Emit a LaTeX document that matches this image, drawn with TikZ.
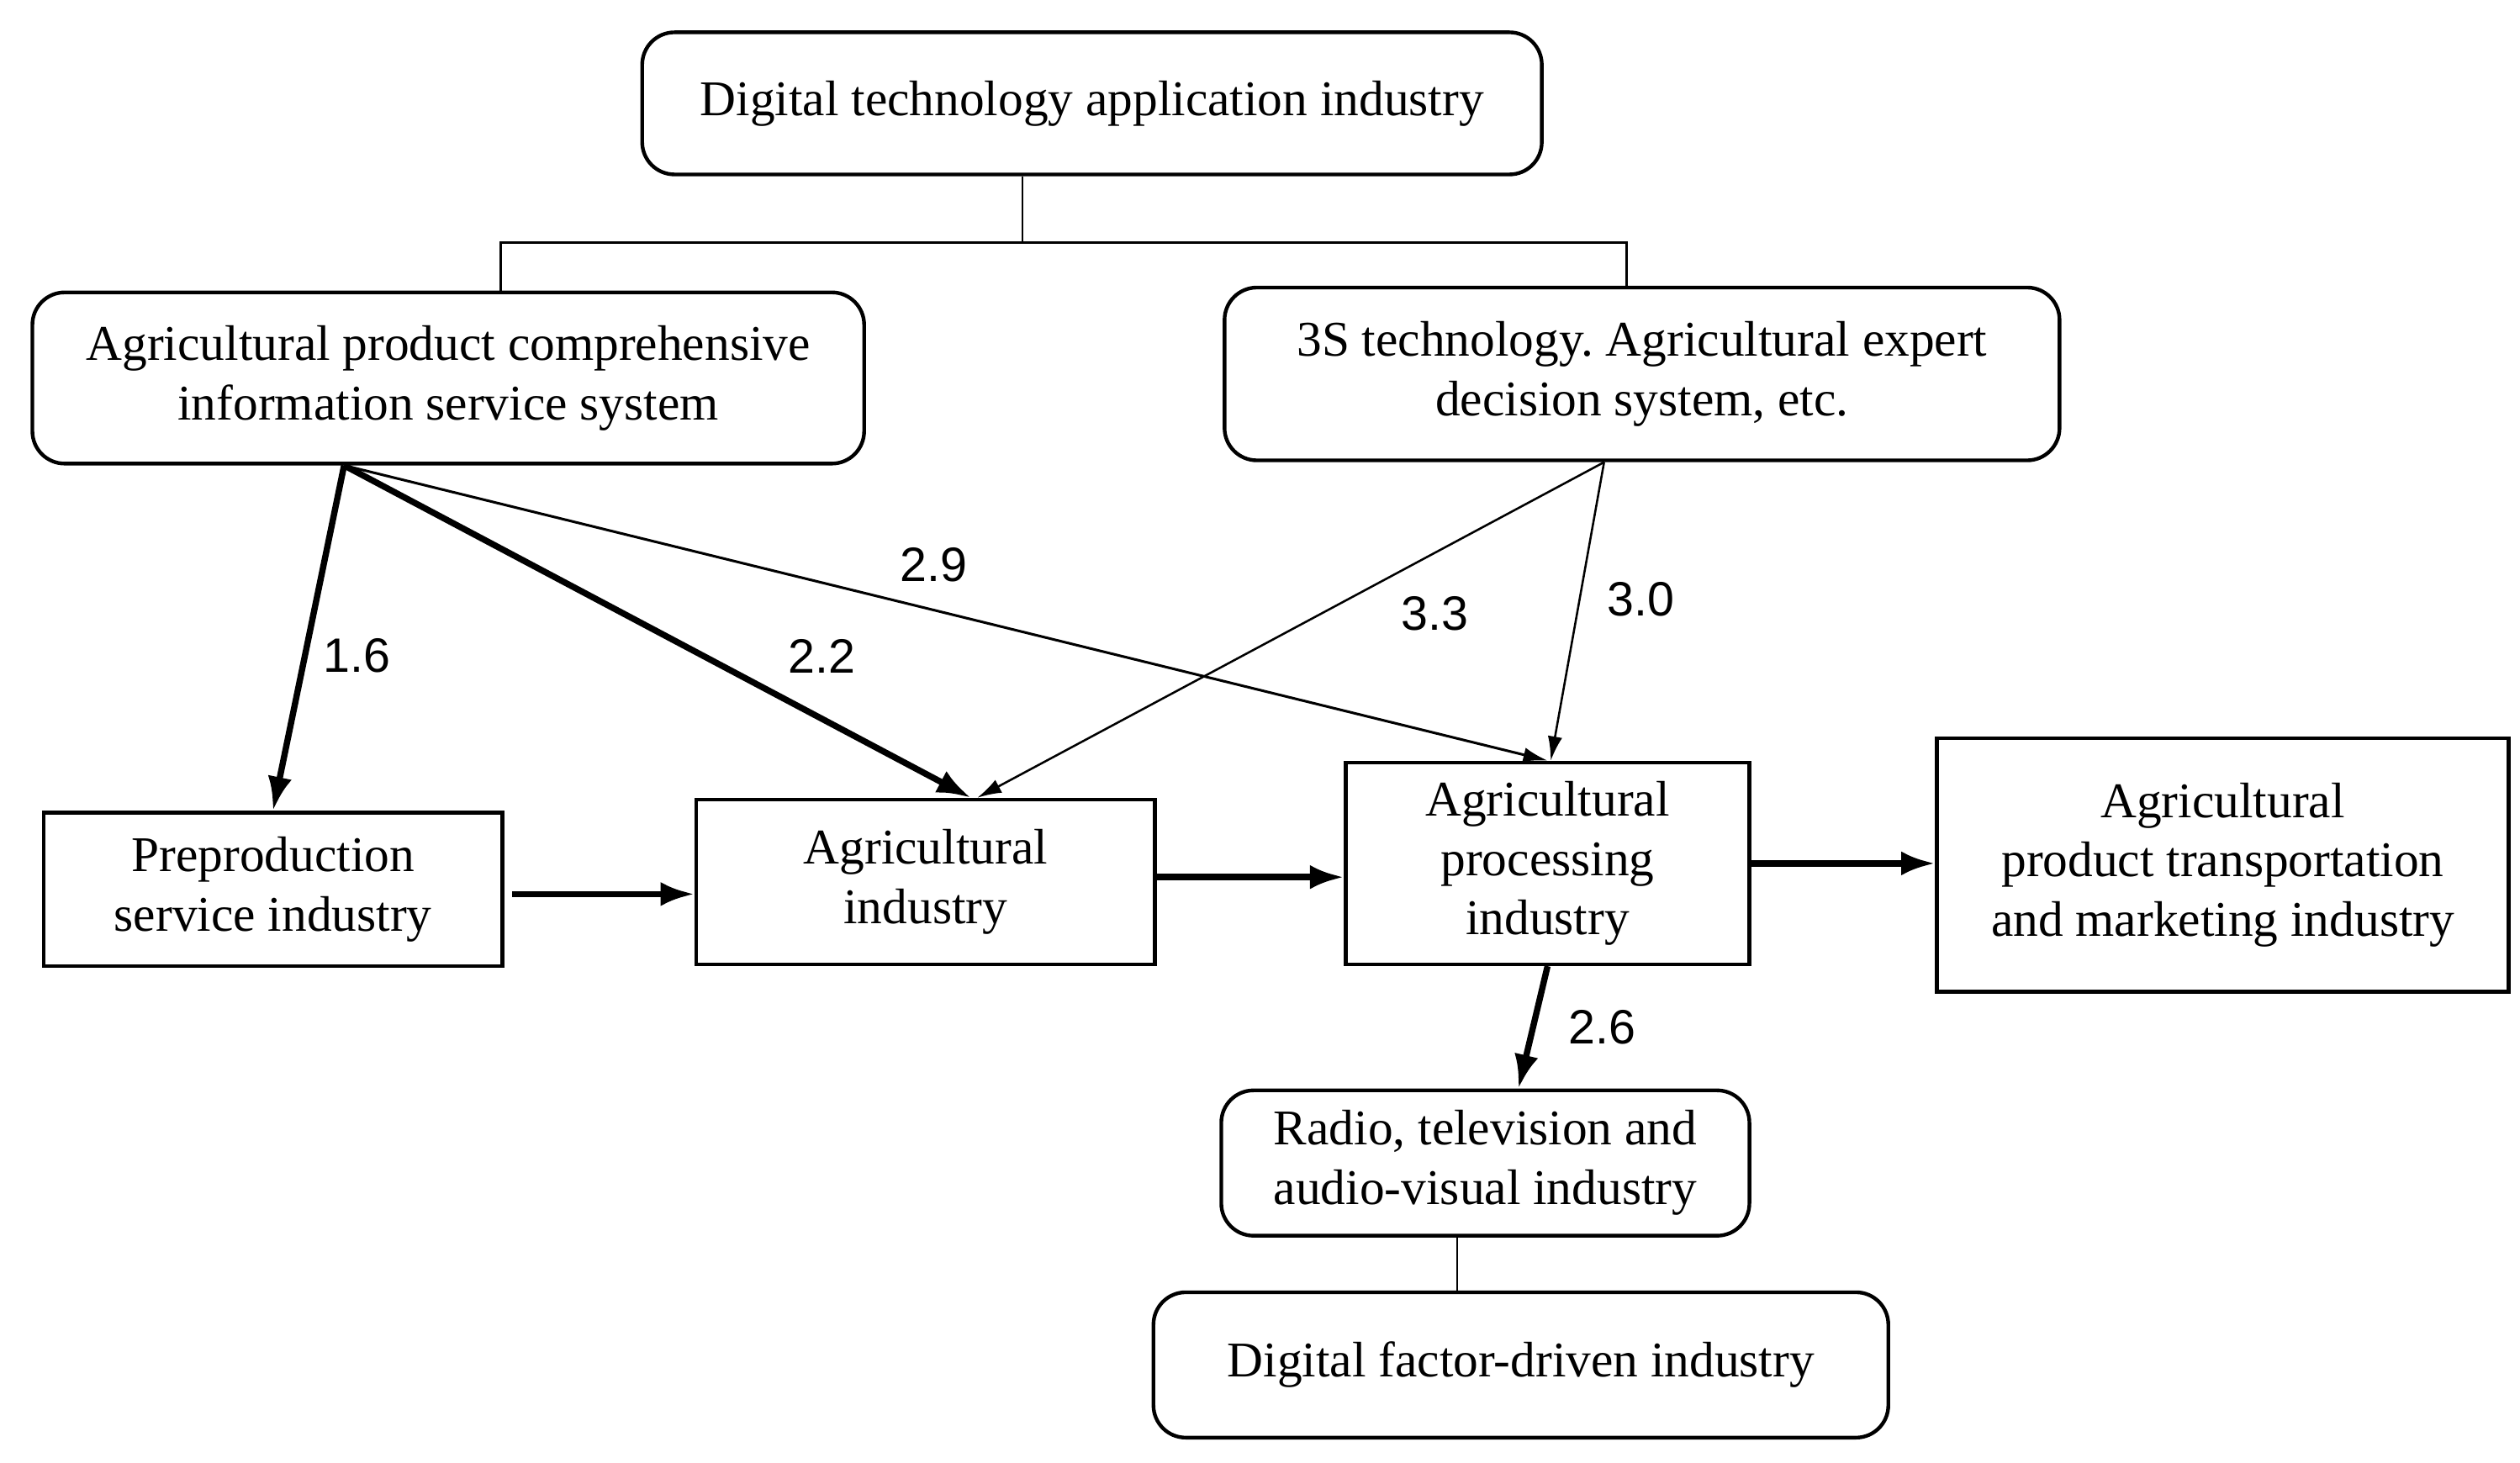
\documentclass[tikz,border=0pt]{standalone}
\usepackage{fontspec}
\setmainfont{Liberation Serif}
\newfontfamily\numfont{Liberation Sans}
\usepackage{tikz}
\usetikzlibrary{arrows.meta,calc}
\frenchspacing
\tikzset{
  blk/.style={draw, line width=1.3pt, align=center, inner sep=2pt, font=\fontsize{17.6}{21}\selectfont},
  rblk/.style={blk, rounded corners=0.4cm},
  flow/.style={line width=2.2pt, -{Latex[length=0.42cm,width=0.3cm]}},
  slim/.style={line width=0.75pt, -{Latex[length=0.3cm,width=0.18cm]}},
  link/.style={line width=0.8pt},
  num/.style={font=\numfont\fontsize{17}{20}\selectfont}
}

\begin{document}
\begin{tikzpicture}[x=0.02cm, y=-0.02cm]
\useasboundingbox (0,0) rectangle (1560,905.7);

% top level
\node[rblk, minimum width=11.14cm, minimum height=1.76cm] (top) at (676,64) {Digital technology application industry};
\node[rblk, minimum width=10.3cm, minimum height=2.12cm] (info) at (277.5,234) {Agricultural product comprehensive\\information service system};
\node[rblk, minimum width=10.34cm, minimum height=2.14cm] (tech) at (1016.5,231.5) {3S technology. Agricultural expert\\decision system, etc.};

% chain
\node[blk, minimum width=5.68cm, minimum height=1.9cm] (prep) at (169,550.5) {Preproduction\\service industry};
\node[blk, minimum width=5.68cm, minimum height=2.04cm] (agri) at (573,546) {Agricultural\\industry};
\node[blk, minimum width=5.0cm, minimum height=2.5cm] (proc) at (958,534.5) {Agricultural\\processing\\industry};
\node[blk, minimum width=7.08cm, minimum height=3.14cm] (trans) at (1376,535.5) {Agricultural\\product transportation\\and marketing industry};

% bottom
\node[rblk, minimum width=6.54cm, minimum height=1.8cm] (radio) at (919.5,720) {Radio, television and\\audio-visual industry};
\node[rblk, minimum width=9.1cm, minimum height=1.8cm] (dig) at (941.5,845) {Digital factor-driven industry};

% tree
\coordinate (fork) at ([xshift=-0.86cm]top.south |- 0,150);
\draw[link] (fork |- top.south) -- (fork);
\draw[link] ([xshift=0.65cm]info.north) |- (fork) -| ([xshift=-0.19cm]tech.north);
\draw[link] ([xshift=-0.35cm]radio.south) coordinate (rd) -- (rd |- dig.north);

% outgoing points
\coordinate (io) at ([xshift=-1.29cm]info.south);
\coordinate (to) at ([xshift=-0.47cm]tech.south);

% weighted arrows
\draw[flow] (io) -- (prep.north) node[num, pos=0.55, right=2pt] {1.6};
\draw[flow] (io) -- ([xshift=0.56cm]agri.north) node[num, pos=0.68, above right=2pt] {2.2};
\draw[slim, line width=0.9pt] (io) -- (proc.north) node[num, pos=0.49, above=6pt] {2.9};
\draw[slim] (to) -- ([xshift=0.64cm]agri.north) node[num, pos=0.45, xshift=1.4cm] {3.3};
\draw[slim] (to) -- ([xshift=0.04cm]proc.north) node[num, pos=0.46, right=6pt] {3.0};
\draw[flow] (proc.south) -- ([xshift=0.41cm]radio.north) node[num, pos=0.5, right=8pt] {2.6};

% chain arrows
\draw[flow] ([xshift=0.1cm,yshift=-0.06cm]prep.east) -- ([yshift=-0.06cm]prep.east -| agri.west);
\draw[flow] ([yshift=0.06cm]agri.east) -- ([yshift=0.06cm]agri.east -| proc.west);
\draw[flow] (proc.east) -- (proc.east -| trans.west);
\end{tikzpicture}
\end{document}
